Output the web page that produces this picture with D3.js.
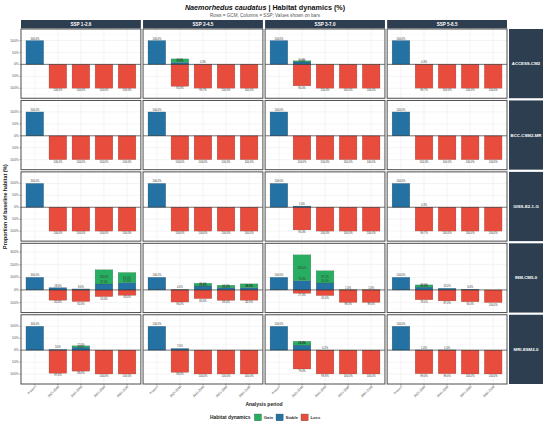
<!DOCTYPE html>
<html><head><meta charset="utf-8">
<script src="https://cdn.jsdelivr.net/npm/d3@7"></script>
<style>body{margin:0;background:#fff}svg{display:block;font-family:"Liberation Sans",Arial,sans-serif}</style>
</head><body><svg id="c" width="550" height="428"></svg>
<script>
const periods = ["Present","2021-2040","2041-2060","2061-2080","2081-2100"];
const ssps = ["SSP 1-2.6","SSP 2-4.5","SSP 3-7.0","SSP 5-8.5"];
const gcms = ["ACCESS-CM2","BCC-CSM2-MR","GISS-E2-1-G","INM-CM5-0","MRI-ESM2-0"];
const dynamics = ["Gain","Stable","Loss"];
const colors = {Gain:"#27AE60", Stable:"#2471A3", Loss:"#E74C3C"};

// values [gcm][ssp][period], percent of baseline habitat
const stableVals = [
  [[100,0,0,0,0],[100,8,0.3,0,0],[100,10,0,0,0],[100,0.3,0,0,0]],
  [[100,0,0,0,0],[100,0,0,0,0],[100,0,0,0,0],[100,0,0,0,0]],
  [[100,0,0,0,0],[100,0,0,0,0],[100,5,0,0,0],[100,0.3,0,0,0]],
  [[100,18,8,47,57],[100,4,31,17,18],[100,73,55,1,1],[100,22,13,6,0]],
  [[100,3,12,0,0],[100,7,0,0,0],[100,21,0.2,0,0],[100,1,1,0,0]]
];
const gainVals = [
  [[0,0,0,0,0],[0,15,0,0,0],[0,5,0,0,0],[0,0,0,0,0]],
  [[0,0,0,0,0],[0,0,0,0,0],[0,0,0,0,0],[0,0,0,0,0]],
  [[0,0,0,0,0],[0,0,0,0,0],[0,0,0,0,0],[0,0,0,0,0]],
  [[0,0,0,113,81],[0,0,22,20,30],[0,205,97,0,0],[0,18,0,0,0]],
  [[0,0,6,0,0],[0,0,0,0,0],[0,16,0,0,0],[0,0,0,0,0]]
];
const lossVals = [
  [[0,100,100,100,100],[0,92,99.7,100,100],[0,90,100,100,100],[0,99.7,100,100,100]],
  [[0,100,100,100,100],[0,100,100,100,100],[0,100,100,100,100],[0,100,100,100,100]],
  [[0,100,100,100,100],[0,100,100,100,100],[0,95,100,100,100],[0,99.7,100,100,100]],
  [[0,82,92,53,43],[0,96,69,83,82],[0,27,45,99,99],[0,78,87,94,100]],
  [[0,97,88,100,100],[0,93,100,100,100],[0,79,99.8,100,100],[0,99,99,100,100]]
];

const svg = d3.select("#c");
const F = '"Liberation Sans",Arial,sans-serif';
const colX0 = 21, colX1 = 507, colGap = 2.2;
const colW = (colX1 - colX0 - 3*colGap)/4;
const rowY0 = 29, rowY1 = 384, rowGap = 2.2;
const rowH = (rowY1 - rowY0 - 4*rowGap)/5;
const fmt = d3.format(".1f");

// Title
svg.append("text").attr("x",265).attr("y",9.5).attr("text-anchor","middle")
  .attr("font-size",7.2).attr("font-weight","bold").attr("fill","#111")
  .call(t=>{t.append("tspan").attr("font-style","italic").text("Naemorhedus caudatus");
            t.append("tspan").text(" | Habitat dynamics (%)");});
svg.append("text").attr("x",265).attr("y",16.8).attr("text-anchor","middle")
  .attr("font-size",4.6).attr("fill","#555").text("Rows = GCM, Columns = SSP; Values shown on bars");

const x = d3.scalePoint().domain(periods).range([0,colW]).padding(0.6);
const bw = x.step()*0.77;

// top strips
ssps.forEach((s,j)=>{
  const px = colX0 + j*(colW+colGap);
  svg.append("rect").attr("x",px).attr("y",20).attr("width",colW).attr("height",8.4).attr("fill","#2C3E50");
  svg.append("text").attr("x",px+colW/2).attr("y",25.8).attr("text-anchor","middle")
    .attr("font-size",4.6).attr("font-weight","bold").attr("fill","#fff").text(s);
});

gcms.forEach((g,i)=>{
  const py = rowY0 + i*(rowH+rowGap);
  let mn = 0, mx = 0;
  ssps.forEach((s,j)=>periods.forEach((p,k)=>{
    mn = Math.min(mn, -lossVals[i][j][k]);
    mx = Math.max(mx, stableVals[i][j][k]+gainVals[i][j][k]);
  }));
  const y0 = d3.scaleLinear().domain([mn,mx]).range([rowH-10, 11.5]);
  const y = d3.scaleLinear().domain([y0.invert(rowH), y0.invert(0)]).range([rowH,0]);
  const ticks = y.ticks(5);
  const step = ticks[1]-ticks[0];
  const minor = [];
  for (let v = ticks[0]-step/2; v <= y.domain()[1]; v += step) if (v >= y.domain()[0]) minor.push(v);

  // right strip
  svg.append("rect").attr("x",509).attr("y",py).attr("width",34).attr("height",rowH).attr("fill","#2C3E50");
  svg.append("text").attr("x",526).attr("y",py+rowH/2+1.5).attr("text-anchor","middle")
    .attr("font-size",4.3).attr("font-weight","bold").attr("fill","#fff").text(g);

  ssps.forEach((s,j)=>{
    const px = colX0 + j*(colW+colGap);
    const gp = svg.append("g").attr("transform",`translate(${px},${py})`);
    gp.append("rect").attr("width",colW).attr("height",rowH).attr("fill","#fff");
    gp.selectAll(".mn").data(minor).join("line").attr("x1",0).attr("x2",colW)
      .attr("y1",d=>y(d)).attr("y2",d=>y(d)).attr("stroke","#f3f3f3").attr("stroke-width",0.3);
    gp.selectAll(".mj").data(ticks).join("line").attr("x1",0).attr("x2",colW)
      .attr("y1",d=>y(d)).attr("y2",d=>y(d)).attr("stroke","#e6e6e6").attr("stroke-width",0.45);
    gp.selectAll(".vx").data(periods).join("line").attr("x1",d=>x(d)).attr("x2",d=>x(d))
      .attr("y1",0).attr("y2",rowH).attr("stroke","#e6e6e6").attr("stroke-width",0.45);

    const recs = periods.map((p,k)=>({p, s:stableVals[i][j][k], g:gainVals[i][j][k], l:lossVals[i][j][k]}));
    const segs = [];
    recs.forEach(r=>{
      if (r.l>0) segs.push({p:r.p, k:"Loss", a:0, b:-r.l});
      if (r.s>0) segs.push({p:r.p, k:"Stable", a:0, b:r.s});
      if (r.g>0) segs.push({p:r.p, k:"Gain", a:r.s, b:r.s+r.g});
    });
    gp.selectAll(".bar").data(segs).join("rect")
      .attr("x",d=>x(d.p)-bw/2).attr("width",bw)
      .attr("y",d=>y(Math.max(d.a,d.b))).attr("height",d=>Math.abs(y(d.a)-y(d.b)))
      .attr("fill",d=>colors[d.k]).attr("stroke","#4a4a4a").attr("stroke-opacity",0.6).attr("stroke-width",0.3);

    gp.append("line").attr("x1",0).attr("x2",colW).attr("y1",y(0)).attr("y2",y(0))
      .attr("stroke","#222").attr("stroke-width",0.6);

    const labs = [];
    recs.forEach(r=>{
      if (r.s>0) labs.push({p:r.p, v:y(r.s)-1, t:fmt(r.s)+"%"});
      if (r.g>0) labs.push({p:r.p, v:y(r.s+r.g/2)+1, t:fmt(r.g)+"%"});
      if (r.l>0) labs.push({p:r.p, v:y(-r.l)+3, t:fmt(r.l)+"%"});
    });
    gp.selectAll(".lb").data(labs).join("text").attr("x",d=>x(d.p)).attr("y",d=>d.v)
      .attr("text-anchor","middle").attr("font-size",2.6).attr("fill","#333").text(d=>d.t);

    gp.append("rect").attr("width",colW).attr("height",rowH).attr("fill","none")
      .attr("stroke","#4d4d4d").attr("stroke-width",1);

    if (j===0) {
      gp.selectAll(".yt").data(ticks).join("line").attr("x1",-1.5).attr("x2",0)
        .attr("y1",d=>y(d)).attr("y2",d=>y(d)).attr("stroke","#333").attr("stroke-width",0.4);
      gp.selectAll(".yl").data(ticks).join("text").attr("x",-2.5).attr("y",d=>y(d)+1.1)
        .attr("text-anchor","end").attr("font-size",3.2).attr("fill","#4d4d4d").text(d=>Math.abs(d)+"%");
    }
    if (i===gcms.length-1) {
      gp.selectAll(".xt").data(periods).join("line").attr("x1",d=>x(d)).attr("x2",d=>x(d))
        .attr("y1",rowH).attr("y2",rowH+1.5).attr("stroke","#333").attr("stroke-width",0.4);
      gp.selectAll(".xl").data(periods).join("text")
        .attr("transform",d=>`translate(${x(d)+1.5},${rowH+3}) rotate(-45)`)
        .attr("text-anchor","end").attr("font-size",3.1).attr("fill","#4d4d4d").text(d=>d);
    }
  });
});

// axis titles
svg.append("text").attr("transform",`translate(7,${(rowY0+rowY1)/2}) rotate(-90)`)
  .attr("text-anchor","middle").attr("font-size",5.3).attr("font-weight","bold").attr("fill","#222")
  .text("Proportion of baseline habitat (%)");
svg.append("text").attr("x",(colX0+colX1)/2).attr("y",405.5).attr("text-anchor","middle")
  .attr("font-size",5).attr("font-weight","bold").attr("fill","#222").text("Analysis period");

// legend
const lg = svg.append("g");
lg.append("text").attr("x",210).attr("y",419).attr("font-size",4.9).attr("font-weight","bold").attr("fill","#222").text("Habitat dynamics");
const keyX = [254.3, 276, 301];
dynamics.forEach((d,k)=>{
  lg.append("rect").attr("x",keyX[k]).attr("y",414).attr("width",7.2).attr("height",6.8)
    .attr("fill",colors[d]).attr("stroke","#4a4a4a").attr("stroke-width",0.3);
  lg.append("text").attr("x",keyX[k]+9.5).attr("y",418.8).attr("font-size",4.2).attr("font-weight","bold").attr("fill","#333").text(d);
});
</script></body></html>
